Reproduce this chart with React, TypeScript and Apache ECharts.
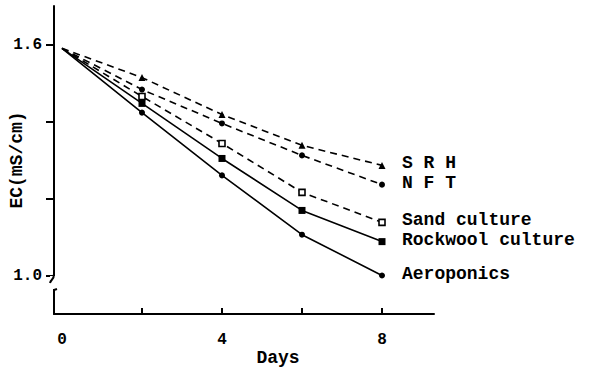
import React, { useEffect, useRef } from "react";
import * as echarts from "echarts";

const days = [0, 2, 4, 6, 8];
const srh = [1.59, 1.514, 1.418, 1.338, 1.286];
const nft = [1.59, 1.483, 1.395, 1.312, 1.236];
const sand = [1.59, 1.465, 1.343, 1.216, 1.138];
const rockwool = [1.59, 1.447, 1.304, 1.169, 1.088];
const aeroponics = [1.59, 1.423, 1.26, 1.106, 1.0];
const xTicks = [2, 4, 6, 8];
const xLabels = [0, 4, 8];
const yTicks = [1.0, 1.2, 1.4, 1.6];
const yLabels = [1.0, 1.6];

const mono = "'Liberation Mono', 'DejaVu Sans Mono', monospace";

export default function App() {
  const ref = useRef<HTMLDivElement>(null);
  useEffect(() => {
    document.body.style.margin = "0";
    const chart = echarts.init(ref.current as HTMLDivElement, null, { renderer: "svg" });
    const mk = (
      name: string,
      data: number[],
      symbol: string,
      dashed: boolean,
      hollow: boolean,
      size: number
    ) => ({
      type: "line",
      name,
      data: data.map((v, i) =>
        i === 0 ? { value: [days[i], v], symbol: "none" } : { value: [days[i], v] }
      ),
      symbol,
      symbolSize: size,
      showAllSymbol: true,
      lineStyle: { color: "#000", width: 1.6, type: dashed ? [7, 5] : "solid" },
      itemStyle: {
        color: hollow ? "#fff" : "#000",
        borderColor: "#000",
        borderWidth: hollow ? 1.6 : 0,
      },
      emphasis: { disabled: true },
      endLabel: {
        show: true,
        formatter: name,
        distance: 20,
        offset: [0, -2],
        fontFamily: mono,
        fontWeight: "bold",
        fontSize: 18,
        lineHeight: 18,
        color: "#000",
      },
    });

    chart.setOption({
      animation: false,
      backgroundColor: "#fff",
      grid: {
        left: 54,
        top: 6,
        width: 380,
        height: 308,
        containLabel: false,
        outerBoundsMode: "none",
      },
      xAxis: {
        type: "value",
        min: -0.2,
        max: 9.3,
        axisLine: { show: true, onZero: false, lineStyle: { color: "#000", width: 2 } },
        splitLine: { show: false },
        axisTick: {
          show: true,
          inside: true,
          customValues: xTicks,
          length: 6,
          lineStyle: { color: "#000", width: 2 },
        },
        axisLabel: {
          customValues: xLabels,
          margin: 18,
          fontFamily: mono,
          fontWeight: "bold",
          fontSize: 16,
          color: "#000",
        },
      },
      yAxis: {
        type: "value",
        min: 0.9,
        max: 1.7,
        axisLine: { show: true, onZero: false, lineStyle: { color: "#000", width: 2 } },
        splitLine: { show: false },
        axisTick: {
          show: true,
          customValues: yTicks,
          length: 8,
          lineStyle: { color: "#000", width: 2 },
        },
        axisLabel: {
          customValues: yLabels,
          formatter: (v: number) => v.toFixed(1),
          margin: 12,
          padding: [0, 0, 8, 0],
          fontFamily: mono,
          fontWeight: "bold",
          fontSize: 16,
          color: "#000",
        },
        name: "EC(mS/cm)",
        nameLocation: "middle",
        nameGap: 28,
        nameMoveOverlap: false,
        nameTextStyle: {
          fontFamily: mono,
          fontWeight: "bold",
          fontSize: 18,
          color: "#000",
        },
      },
      graphic: [
        {
          type: "rect",
          z: 100,
          shape: { x: 50, y: 276, width: 9, height: 13 },
          style: { fill: "#fff" },
        },
        {
          type: "bezierCurve",
          z: 101,
          shape: { x1: 54, y1: 274, cpx1: 54, cpy1: 280, cpx2: 51, cpy2: 279, x2: 50, y2: 283 },
          style: { stroke: "#000", lineWidth: 2, fill: "none" },
        },
        {
          type: "polyline",
          z: 101,
          shape: { points: [[57, 289], [54, 290], [54, 300]] },
          style: { stroke: "#000", lineWidth: 2, fill: "none" },
        },
        {
          type: "text",
          x: 278,
          y: 358,
          style: {
            text: "Days",
            fontFamily: mono,
            fontWeight: "bold",
            fontSize: 18,
            fill: "#000",
            align: "center",
            verticalAlign: "middle",
          },
        },
      ],
      series: [
        mk("S R H", srh, "triangle", true, false, 7),
        mk("N F T", nft, "circle", true, false, 6),
        mk("Sand culture", sand, "rect", true, true, 6),
        mk("Rockwool culture", rockwool, "rect", false, false, 7),
        mk("Aeroponics", aeroponics, "circle", false, false, 6),
      ],
    });
    return () => chart.dispose();
  }, []);
  return <div ref={ref} style={{ width: 604, height: 371 }} />;
}
